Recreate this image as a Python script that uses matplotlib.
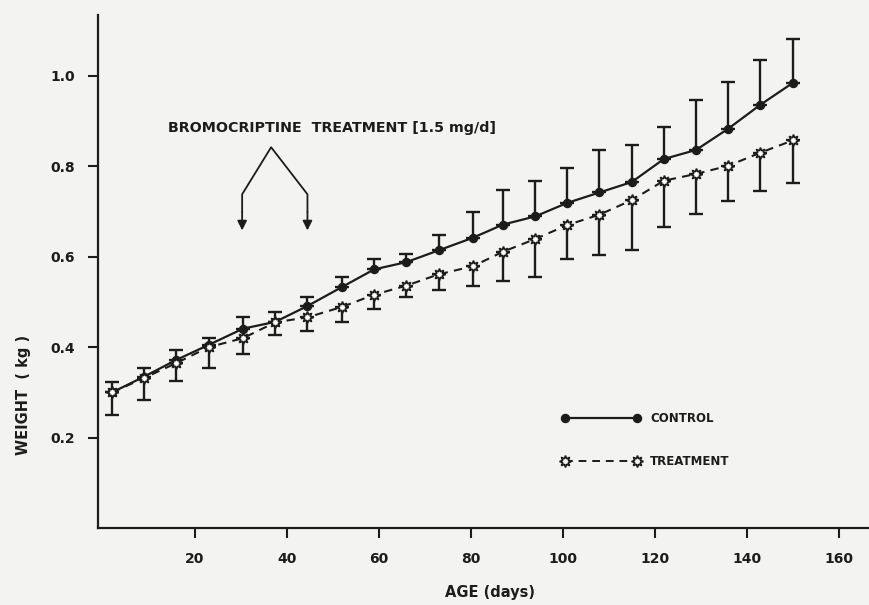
import numpy as np
import matplotlib.pyplot as plt

# data
days = [2, 9, 16, 23, 30.5, 37.5, 44.5, 52, 59, 66, 73, 80.5, 87, 94, 101, 108, 115, 122, 129, 136, 143, 150]
control = [0.300, 0.335, 0.372, 0.405, 0.441, 0.456, 0.491, 0.533, 0.572, 0.588, 0.614, 0.642,
           0.671, 0.689, 0.719, 0.742, 0.765, 0.816, 0.836, 0.883, 0.936, 0.984]
control_sd = [0.022, 0.018, 0.021, 0.016, 0.025, 0.021, 0.019, 0.022, 0.022, 0.019, 0.035, 0.056,
              0.076, 0.078, 0.078, 0.093, 0.081, 0.071, 0.110, 0.103, 0.098, 0.097]
treatment = [0.300, 0.332, 0.365, 0.400, 0.420, 0.455, 0.466, 0.489, 0.516, 0.536, 0.561, 0.579,
             0.611, 0.639, 0.670, 0.693, 0.725, 0.768, 0.783, 0.801, 0.830, 0.857]
treatment_sd = [0.050, 0.048, 0.040, 0.046, 0.035, 0.028, 0.030, 0.034, 0.031, 0.026, 0.035, 0.044,
                0.065, 0.084, 0.076, 0.089, 0.111, 0.102, 0.089, 0.078, 0.085, 0.093]
xticks = [20, 40, 60, 80, 100, 120, 140, 160]
yticks = [0.2, 0.4, 0.6, 0.8, 1.0]

ink = '#1c1c1c'
paper = '#f3f3f1'
star = (8, 1, 0)

fig = plt.figure(figsize=(8.69, 6.05), dpi=100, facecolor=paper)
ax = fig.add_axes([0.113, 0.127, 0.887, 0.848], facecolor=paper)

zeros = np.zeros(len(days))
ax.errorbar(days, control, yerr=[zeros, control_sd], fmt='-o', color=ink, ms=5.8, lw=1.6,
            capsize=4.7, elinewidth=1.7, capthick=1.7, zorder=3)
ax.errorbar(days, treatment, yerr=[treatment_sd, zeros], fmt='--', color=ink, lw=1.5,
            capsize=4.7, elinewidth=1.7, capthick=1.7, dashes=(4, 3), zorder=3)
ax.plot(days, treatment, ls='none', marker=star, ms=8.5, mfc='white', mec=ink, mew=1.2, zorder=4)

ax.set_xlim(-1, 166.6)
ax.set_ylim(0, 1.134)
ax.set_xticks(xticks)
ax.set_yticks(yticks)
ax.set_xticklabels([str(t) for t in xticks])
ax.set_yticklabels(['%.1f' % t for t in yticks])
ax.tick_params(direction='out', length=7, width=1.5, colors=ink, labelsize=10, pad=10)
for lab in ax.get_xticklabels() + ax.get_yticklabels():
    lab.set_fontweight('bold')
for s in ['top', 'right']:
    ax.spines[s].set_visible(False)
for s in ['left', 'bottom']:
    ax.spines[s].set_linewidth(1.6)
    ax.spines[s].set_color(ink)

# treatment bracket
ax.text(14.2, 0.884, 'BROMOCRIPTINE  TREATMENT [1.5 mg/d]', fontsize=10.3, fontweight='bold',
        color=ink, va='center', ha='left')
ax.plot([30.3, 30.3, 36.6, 44.5, 44.5], [0.700, 0.738, 0.842, 0.738, 0.700], color=ink, lw=1.3)
for xa in [30.3, 44.5]:
    ax.annotate('', xy=(xa, 0.652), xytext=(xa, 0.705),
                arrowprops=dict(arrowstyle='-|>', color=ink, lw=1.3, mutation_scale=14))

# legend drawn by hand
ax.plot([100.5, 116.2], [0.243, 0.243], '-o', color=ink, ms=5.8, lw=1.6)
ax.text(119, 0.243, 'CONTROL', fontsize=8.5, fontweight='bold', color=ink, va='center')
ax.plot([100.5, 116.2], [0.148, 0.148], '--', color=ink, lw=1.4, dashes=(4, 3))
ax.plot([100.5, 116.2], [0.148, 0.148], ls='none', marker=star, ms=8.5, mfc='white', mec=ink, mew=1.2)
ax.text(119, 0.148, 'TREATMENT', fontsize=8.5, fontweight='bold', color=ink, va='center')

fig.text(490 / 869, 1 - 593 / 605, 'AGE (days)', fontsize=10.5, fontweight='bold', color=ink,
         ha='center', va='center')
fig.text(24 / 869, 1 - 395 / 605, 'WEIGHT  ( kg )', fontsize=10.5, fontweight='bold', color=ink,
         ha='center', va='center', rotation=90)

fig.savefig('out.png', dpi=100, facecolor=paper)
